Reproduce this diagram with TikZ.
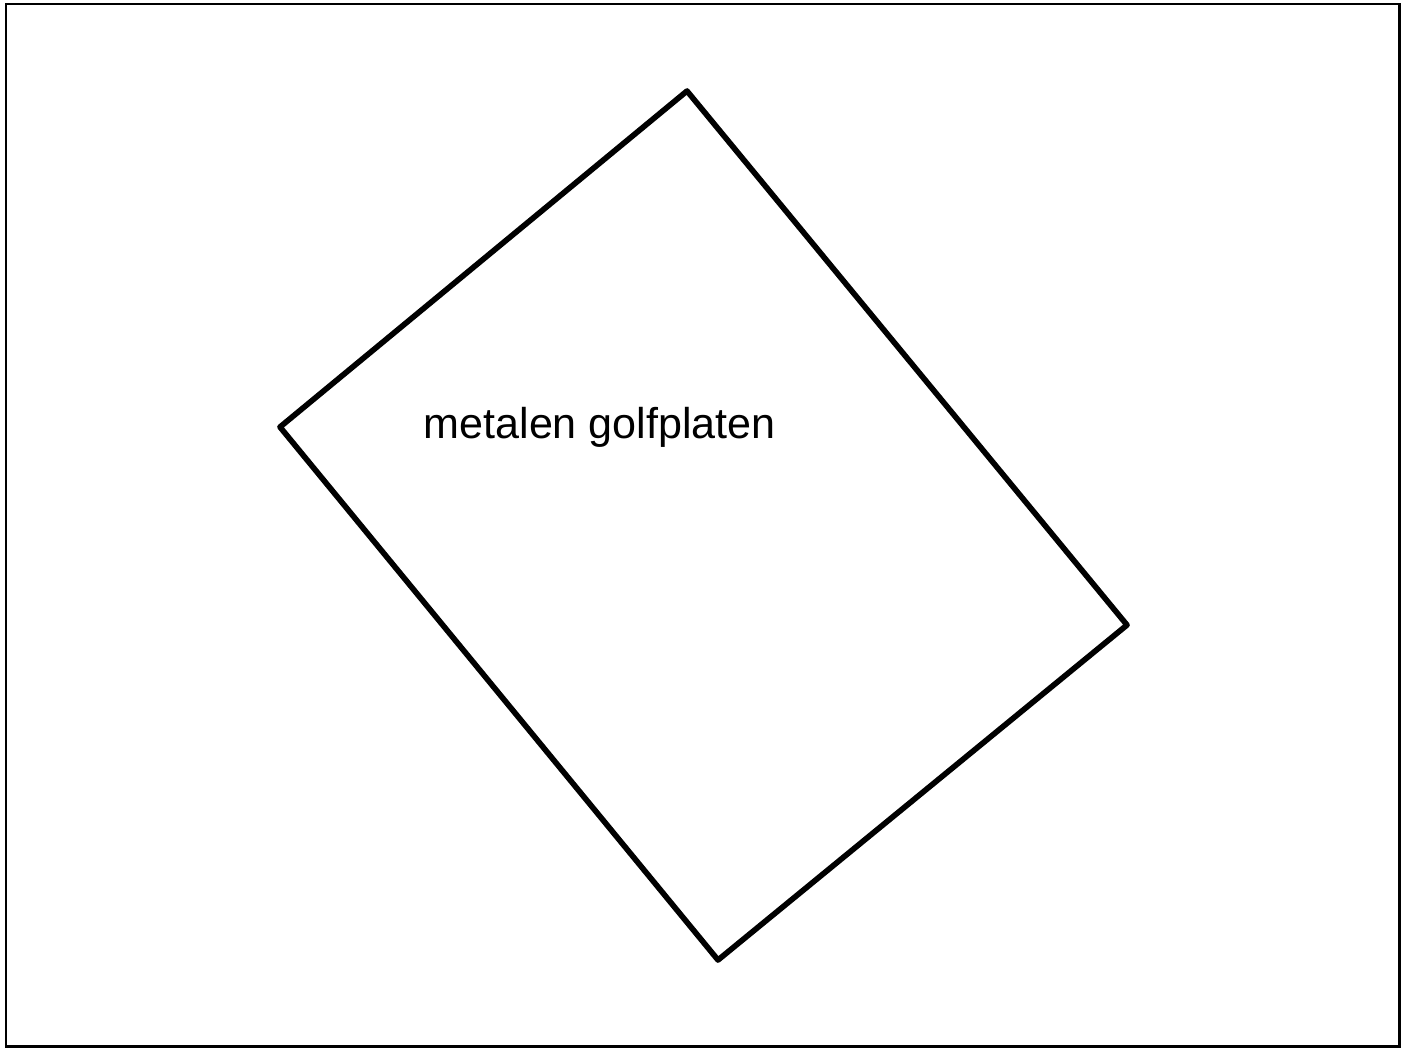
\documentclass[tikz,border=0pt]{standalone}
\usepackage{fontspec}
\setmainfont{Liberation Sans}
\usetikzlibrary{positioning}

\begin{document}
\begin{tikzpicture}[
    x=0.01cm, y=-0.01cm,
    frame/.style={draw, line width=0.85pt},
    plate/.style={draw, line width=1.6pt, line join=round},
    lbl/.style={font=\fontsize{12.25}{14}\selectfont, inner sep=0pt},
]
    % Canvas and frame
    \useasboundingbox (0,0) rectangle (1410,1048);
    \draw[frame] (6,4) rectangle (1399,1046);

    % Corners of the plate
    \coordinate (top) at (687,91);
    \coordinate (right) at (1127,625);
    \coordinate (bottom) at (718,960);
    \coordinate (left) at (280,427);
    \draw[plate] (top) -- (right) -- (bottom) -- (left) -- cycle;

    % Label
    \node[lbl, anchor=base west] (golf) at (423,438) {metalen golfplaten};
\end{tikzpicture}
\end{document}
